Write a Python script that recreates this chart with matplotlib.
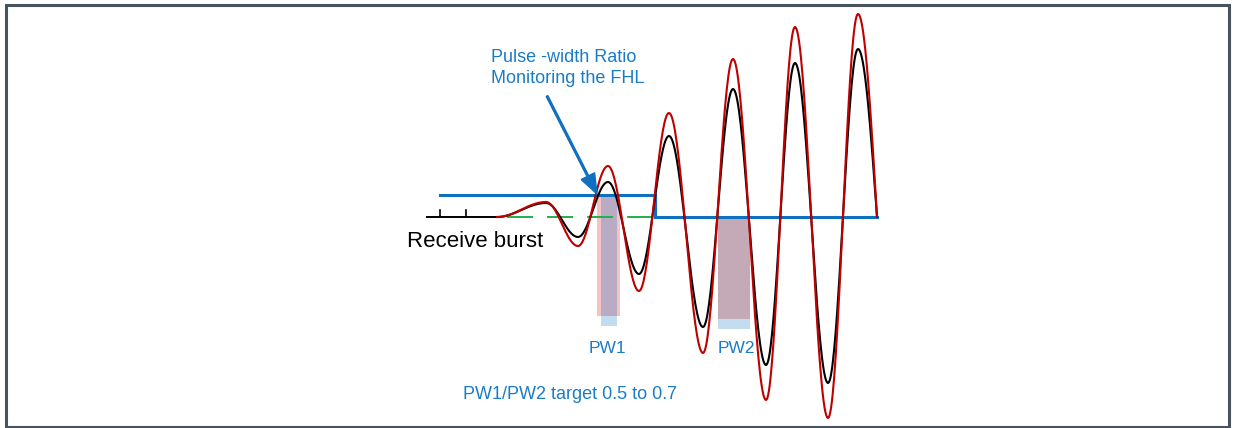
import numpy as np
import matplotlib
matplotlib.use("Agg")
import matplotlib.pyplot as plt
from matplotlib.patches import Rectangle

plt.rcParams['font.family'] = ['Liberation Sans', 'DejaVu Sans']

# ---- data (time in px-like units, amplitude relative to baseline, up positive)
black_t = [497, 546, 578, 608, 639, 669, 703, 733, 766, 795, 828, 858, 877]
black_a = [0, 14, -20, 35, -57, 81, -110, 128, -148, 154, -166, 168, 0]
red_t = [497, 546, 578, 608, 639, 669, 703, 733, 766, 795, 828, 858, 877]
red_a = [0, 15, -29, 51, -74, 104, -136, 158, -183, 190, -201, 203, 0]
lead_in = [427, 497]          # flat black baseline before the burst
tick_t = [440, 466]
tick_h = 7
threshold = 22                # FHL level
thr_start, thr_end = 440, 655
base_end = 877
green_span = [507, 653]
pw1_red = [597, 620]
pw1_black = [601, 617]
pw2 = [718, 750]
bar_depth = 102
bar_tab = 10

W, H = 1235, 428
BASE_PX = 217


def smooth_through_extrema(ts, amps, n=40):
    xs, ys = [], []
    for i in range(len(ts) - 1):
        u = np.linspace(0, 1, n)
        x0, x1 = ts[i], ts[i + 1]
        y0, y1 = amps[i], amps[i + 1]
        if i == len(ts) - 2:
            # last quarter wave down to baseline
            y = y0 + (y1 - y0) * (1 - np.cos(np.pi / 2 * u))
        else:
            y = y0 + (y1 - y0) * (1 - np.cos(np.pi * u)) / 2
        xs.append(x0 + (x1 - x0) * u)
        ys.append(y)
    return np.concatenate(xs), np.concatenate(ys)


fig = plt.figure(figsize=(W / 100, H / 100), dpi=100)
ax = fig.add_axes([0, 0, 1, 1])
ax.set_xlim(0, W)
ax.set_ylim(BASE_PX - H, BASE_PX)
ax.axis('off')

# frame
ax.add_patch(Rectangle((5.5, BASE_PX - 426.5), 1223, 422, fill=False,
                       edgecolor='#48535e', linewidth=2.2, zorder=10))

# pulse-width bars
ax.add_patch(Rectangle((pw1_red[0], threshold - bar_depth - 19), pw1_red[1] - pw1_red[0],
                       bar_depth + 19, facecolor='#f3c3c5', edgecolor='none', zorder=1))
ax.add_patch(Rectangle((pw1_black[0], threshold - bar_depth - 19), pw1_black[1] - pw1_black[0],
                       bar_depth + 19, facecolor='#b8abc3', edgecolor='none', zorder=1.1))
ax.add_patch(Rectangle((pw1_black[0], threshold - bar_depth - 19 - bar_tab), pw1_black[1] - pw1_black[0],
                       bar_tab, facecolor='#c3dcf0', edgecolor='none', zorder=1.1))
ax.add_patch(Rectangle((pw2[0], -bar_depth), pw2[1] - pw2[0], bar_depth,
                       facecolor='#c4aab7', edgecolor='none', zorder=1))
ax.add_patch(Rectangle((pw2[0], -bar_depth - bar_tab), pw2[1] - pw2[0], bar_tab,
                       facecolor='#c3dcf0', edgecolor='none', zorder=1))

# green dashed zero line
ax.plot(green_span, [0, 0], color='#22b04b', lw=1.4, dashes=(13.4, 7.2), zorder=2)

# blue threshold line
ax.plot([thr_start, thr_end, thr_end, base_end], [threshold, threshold, 0, 0],
        color='#0f6fc0', lw=2.2, solid_joinstyle='miter', zorder=3)

# black lead-in and ticks
ax.plot(lead_in, [0, 0], color='black', lw=1.4, zorder=4)
for t in tick_t:
    ax.plot([t, t], [0, tick_h], color='black', lw=1.2, zorder=4)

bx, by = smooth_through_extrema(black_t, black_a)
rx, ry = smooth_through_extrema(red_t, red_a)
ax.plot(bx, by, color='black', lw=1.5, zorder=5)
ax.plot(rx, ry, color='#c00000', lw=1.5, zorder=6)

# arrow
ax.arrow(547, BASE_PX - 96, 50, -98, width=1.8, head_width=15, head_length=20,
         length_includes_head=True, color='#0f6fc0', zorder=7)

txt_blue = '#1a7cc6'
ax.text(491, BASE_PX - 62, 'Pulse -width Ratio', color=txt_blue, fontsize=13, va='baseline')
ax.text(491, BASE_PX - 83, 'Monitoring the FHL', color=txt_blue, fontsize=13, va='baseline')
ax.text(407, BASE_PX - 247, 'Receive burst', color='black', fontsize=16, va='baseline')
ax.text(589, BASE_PX - 353, 'PW1', color=txt_blue, fontsize=12.5, va='baseline')
ax.text(718, BASE_PX - 353, 'PW2', color=txt_blue, fontsize=12.5, va='baseline')
ax.text(463, BASE_PX - 399, 'PW1/PW2 target 0.5 to 0.7', color=txt_blue, fontsize=13, va='baseline')

fig.savefig('out.png', dpi=100)
